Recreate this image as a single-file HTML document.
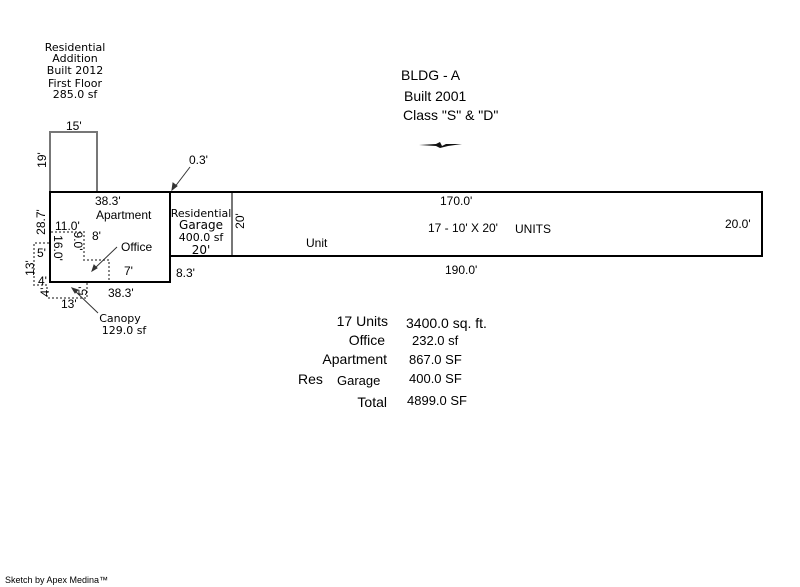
<!DOCTYPE html>
<html><head><style>
body{margin:0;background:#fff;}
svg{display:block;}
text{font-family:"DejaVu Sans","Liberation Sans",sans-serif;fill:#000;}
text.a,.a text{font-family:"Liberation Sans",sans-serif;}
</style></head><body>
<svg width="800" height="587" viewBox="0 0 800 587">
<g font-size="11" text-anchor="middle">
<text x="75" y="51">Residential</text>
<text x="75" y="62">Addition</text>
<text x="75" y="74">Built 2012</text>
<text x="75" y="87">First Floor</text>
<text x="75" y="98">285.0 sf</text>
</g>
<g class="a" font-size="14">
<text x="401" y="80">BLDG - A</text>
<text x="404" y="101">Built 2001</text>
<text x="403" y="120">Class "S" &amp; "D"</text>
</g>
<path d="M419 145 L436 144 L440 142 L442 146 L446 144 L462 144 L448 146 L444 147 L440 148 L436 146 Z" fill="#111"/>
<path d="M50 192 V132 H97 V192" fill="none" stroke="#777" stroke-width="2"/>
<rect x="50" y="192" width="120" height="90" fill="none" stroke="#000" stroke-width="2"/>
<path d="M170 192 H762 V256 H170" fill="none" stroke="#000" stroke-width="2"/>
<line x1="232" y1="193" x2="232" y2="255" stroke="#777" stroke-width="2"/>
<path d="M51 232 H84 V260 H109 V281" fill="none" stroke="#888" stroke-width="2" stroke-dasharray="2,2"/>
<path d="M49 243 H34 V285 H47 V298 H87 V283" fill="none" stroke="#888" stroke-width="2" stroke-dasharray="2,2"/>
<g stroke="#333" stroke-width="1" fill="#333">
<line x1="190" y1="167" x2="174" y2="188"/><path d="M172 190 L173 183 L177 186 Z"/>
<line x1="117" y1="247" x2="94" y2="269"/><path d="M92 271 L94 265 L97 268 Z"/>
<line x1="98" y1="313" x2="74" y2="290"/><path d="M72 288 L78 290 L75 293 Z"/>
</g>
<g class="a" font-size="12">
<text x="66" y="130">15'</text>
<text x="189" y="164">0.3'</text>
<text x="95" y="205">38.3'</text>
<text x="96" y="219">Apartment</text>
<text x="55" y="230">11.0'</text>
<text x="92" y="240">8'</text>
<text x="121" y="251">Office</text>
<text x="124" y="275">7'</text>
<text x="108" y="297">38.3'</text>
<text x="176" y="277">8.3'</text>
<text x="61" y="308">13'</text>
<text x="37" y="257">5'</text>
<text x="38" y="285">4'</text>
<text x="306" y="247">Unit</text>
<text x="440" y="205">170.0'</text>
<text x="428" y="232">17 - 10' X 20'</text>
<text x="515" y="233">UNITS</text>
<text x="725" y="228">20.0'</text>
<text x="445" y="274">190.0'</text>
</g>
<g font-size="11" text-anchor="middle">
<text x="201" y="217">Residential</text>
<text x="201" y="229" font-size="12">Garage</text>
<text x="201" y="241">400.0 sf</text>
<text x="201" y="254" font-size="12">20'</text>
<text x="120" y="322">Canopy</text>
<text x="124" y="334">129.0 sf</text>
</g>
<g class="a" font-size="12">
<text transform="translate(45,222) rotate(-90)" text-anchor="middle">28.7'</text>
<text transform="translate(54,248) rotate(90)" text-anchor="middle">16.0'</text>
<text transform="translate(74,241) rotate(90)" text-anchor="middle">9.0'</text>
<text transform="translate(34,268) rotate(-90)" text-anchor="middle">13'</text>
<text transform="translate(46,160) rotate(-90)" text-anchor="middle">19'</text>
<text transform="translate(244,221) rotate(-90)" text-anchor="middle">20'</text>
<text transform="translate(87,291) rotate(-90)" text-anchor="middle">5'</text>
<text transform="translate(49,292) rotate(-90)" text-anchor="middle">4'</text>
</g>
<g class="a" font-size="14" text-anchor="end">
<text x="388" y="326">17 Units</text>
<text x="385" y="345">Office</text>
<text x="387" y="364">Apartment</text>
<text x="387" y="407">Total</text>
</g>
<text class="a" x="298" y="384" font-size="14">Res</text>
<text class="a" x="337" y="385" font-size="13">Garage</text>
<g class="a" font-size="13">
<text x="406" y="328" font-size="14">3400.0 sq. ft.</text>
<text x="412" y="345">232.0 sf</text>
<text x="409" y="364">867.0 SF</text>
<text x="409" y="383">400.0 SF</text>
<text x="407" y="405">4899.0 SF</text>
</g>
<text class="a" x="5" y="583" font-size="9">Sketch by Apex Medina™</text>
</svg>
</body></html>
